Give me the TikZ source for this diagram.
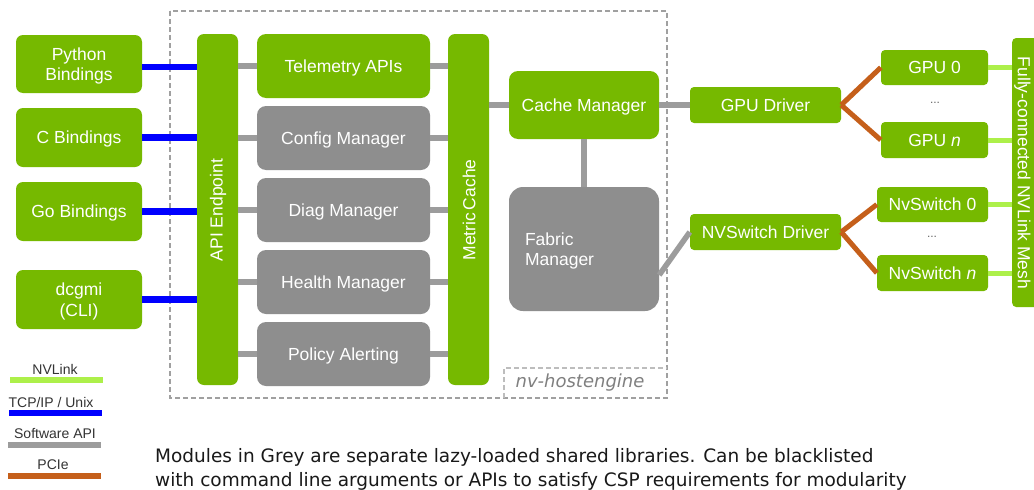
\documentclass[tikz,border=0pt]{standalone}
\usepackage{fontspec}
\setmainfont{Liberation Sans}
\newfontfamily\tahoma{DejaVu Sans}
\usetikzlibrary{calc}
\definecolor{nvgreen}{HTML}{76B900}
\definecolor{modgrey}{HTML}{8E8E8E}
\definecolor{apigrey}{HTML}{9C9C9C}
\definecolor{tcpblue}{HTML}{0000FF}
\definecolor{pcieorange}{HTML}{C55F1A}
\definecolor{nvlinkgreen}{HTML}{ADF04A}
\definecolor{frame}{HTML}{A0A0A0}
\tikzset{
  boxfont/.style={font=\fontsize{17.5}{20.5}\selectfont},
  greenbox/.style={fill=nvgreen, rounded corners=7pt, text=white, align=center, inner sep=0pt, boxfont, text height=12.5pt, text depth=0pt},
  twoline/.style={text height=33pt, text depth=0pt},
  smallgreen/.style={greenbox, rounded corners=4pt},
  greybox/.style={fill=modgrey, rounded corners=9pt, text=white, align=center, inner sep=0pt, boxfont, text height=12.5pt, text depth=0pt},
  tcp/.style={draw=tcpblue, line width=6.5pt},
  swapi/.style={draw=apigrey, line width=5.5pt},
  pcie/.style={draw=pcieorange, line width=5pt},
  nvlink/.style={draw=nvlinkgreen, line width=5pt},
  framebox/.style={draw=frame, line width=1.1pt, dash pattern=on 5pt off 3pt},
  legendtext/.style={text=black!80, font=\fontsize{14}{16}\selectfont, inner sep=0pt},
  dotsnode/.style={text=black!60, font=\fontsize{12}{14}\selectfont, inner sep=0pt},
}
\begin{document}
\begin{tikzpicture}[x=1pt,y=-1pt]
\useasboundingbox (0,0) rectangle (1034,490);
\fill[white] (0,0) rectangle (1034,490);

% host engine frame
\draw[framebox] (170,11) rectangle (667,398);
\draw[framebox, draw=frame!70] (504,398) -- (504,368) -- (667,368);
\node[text=black!50, font=\tahoma\itshape\fontsize{18}{20}\selectfont, inner sep=0pt] (hostlabel) at (580,383) {nv-hostengine};

% bindings
\node[greenbox, twoline, minimum width=126pt, minimum height=58pt] (py) at (79,64) {Python\\Bindings};
\node[greenbox, minimum width=126pt, minimum height=59pt] (cb) at (79,137.5) {C Bindings};
\node[greenbox, minimum width=126pt, minimum height=59pt] (gob) at (79,211.5) {Go Bindings};
\node[greenbox, twoline, minimum width=126pt, minimum height=59pt] (cli) at (79,299.5) {dcgmi\\(CLI)};

% API endpoint and metric cache
\node[greenbox, minimum width=41pt, minimum height=351pt] (api) at (217.5,209.5) {};
\node[text=white, boxfont, rotate=90, inner sep=0pt] (apilabel) at (218,210) {API Endpoint};
\node[greenbox, minimum width=41pt, minimum height=351pt] (metric) at (468.5,209.5) {};
\node[text=white, boxfont, rotate=90, inner sep=0pt] (metriclabel) at (469,210) {Metric\,Cache};

% modules
\node[greenbox, rounded corners=9pt, minimum width=173pt, minimum height=64pt] (tel) at (343.5,66) {Telemetry APIs};
\node[greybox, minimum width=173pt, minimum height=64pt] (cfg) at (343.5,138) {Config Manager};
\node[greybox, minimum width=173pt, minimum height=64pt] (diag) at (343.5,210) {Diag Manager};
\node[greybox, minimum width=173pt, minimum height=64pt] (health) at (343.5,282) {Health Manager};
\node[greybox, minimum width=173pt, minimum height=64pt] (policy) at (343.5,354) {Policy Alerting};

% cache & fabric
\node[greenbox, rounded corners=9pt, minimum width=150pt, minimum height=68pt] (cache) at (584,105) {Cache Manager};
\node[greybox, text depth=20.5pt, rounded corners=14pt, minimum width=150pt, minimum height=124pt, text width=118pt, inner xsep=16pt, align=left] (fabric) at (584,249) {Fabric\\Manager};

% drivers and devices
\node[smallgreen, minimum width=151pt, minimum height=36pt] (gpudrv) at (765.5,105) {GPU Driver};
\node[smallgreen, minimum width=151pt, minimum height=36pt] (nvsdrv) at (765.5,232) {NVSwitch Driver};
\node[smallgreen, minimum width=107pt, minimum height=35pt] (gpu0) at (934.5,67.5) {GPU 0};
\node[smallgreen, minimum width=107pt, minimum height=36pt] (gpun) at (934.5,140) {GPU \textit{n}};
\node[smallgreen, minimum width=111pt, minimum height=35pt] (nvs0) at (932.5,204.5) {NvSwitch 0};
\node[smallgreen, minimum width=111pt, minimum height=36pt] (nvsn) at (932.5,273) {NvSwitch \textit{n}};
\node[dotsnode] (gdots) at (935,103) {...};
\node[dotsnode] (sdots) at (932,237) {...};

% NVLink mesh
\begin{scope}
\clip (0,0) rectangle (1034,490);
\node[smallgreen, anchor=west, minimum width=40pt, minimum height=269pt] (mesh) at (1012,172.5) {};
\end{scope}
\node[text=white, boxfont, rotate=-90, inner sep=0pt] (meshlabel) at (1022.5,173) {Fully-connected NVLink Mesh};

% TCP/IP connectors
\draw[tcp] ($(py.east)+(0,3)$) -- ($(py.east -| api.west)+(0,3)$);
\draw[tcp] (cb.east) -- (cb.east -| api.west);
\draw[tcp] (gob.east) -- (gob.east -| api.west);
\draw[tcp] (cli.east) -- (cli.east -| api.west);

% software API connectors
\foreach \m in {tel,cfg,diag,health,policy}{
  \draw[swapi] (api.east |- \m.west) -- (\m.west);
  \draw[swapi] (\m.east) -- (\m.east -| metric.west);
}
\draw[swapi] (metric.east |- cache.west) -- (cache.west);
\draw[swapi] (cache.south) -- (fabric.north);
\draw[swapi] (cache.east) -- (gpudrv.west);
\draw[swapi] ($(fabric.east)+(0,26)$) -- (nvsdrv.west);

% PCIe
\draw[pcie] (gpudrv.east) -- (gpu0.west);
\draw[pcie] (gpudrv.east) -- (gpun.west);
\draw[pcie] (nvsdrv.east) -- (nvs0.west);
\draw[pcie] (nvsdrv.east) -- (nvsn.west);

% NVLink
\foreach \d in {gpu0,gpun,nvs0,nvsn}{
  \draw[nvlink] (\d.east) -- (\d.east -| mesh.west);
}

% legend
\node[legendtext] (lnv) at (55,369) {NVLink};
\draw[nvlink, line width=6pt] (10,380) -- (103,380);
\node[legendtext] (ltcp) at (51,402) {TCP/IP / Unix};
\draw[tcp, line width=6pt] (9,413) -- (102,413);
\node[legendtext] (lsw) at (55,433) {Software API};
\draw[swapi, line width=6pt] (8,445) -- (101,445);
\node[legendtext] (lpcie) at (53,465) {PCIe};
\draw[pcie, line width=6pt] (8,475.5) -- (101,475.5);

% note
\node[anchor=north west, align=left, inner sep=0pt, text=black!90, font=\tahoma\fontsize{18.5}{24}\selectfont] (note) at (155,448.5) {Modules in Grey are separate lazy-loaded shared libraries. Can be blacklisted\\with command line arguments or APIs to satisfy CSP requirements for modularity};
\end{tikzpicture}
\end{document}
